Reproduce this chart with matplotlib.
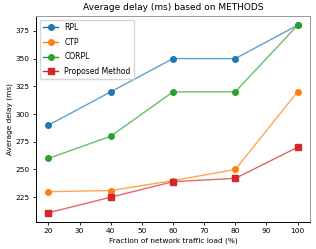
import matplotlib.pyplot as plt

loads = [20, 40, 60, 80, 100]
rpl = [290, 320, 350, 350, 380]
ctp = [230, 231, 240, 250, 320]
corpl = [260, 280, 320, 320, 380]
proposed = [211, 225, 239, 242, 270]

fig, ax = plt.subplots(figsize=(3.16, 2.49), dpi=100)

series = [("RPL", rpl, "o", "#1f77b4"),
          ("CTP", ctp, "o", "#ff7f0e"),
          ("CORPL", corpl, "o", "#2ca02c"),
          ("Proposed Method", proposed, "s", "#d62728")]

for name, vals, m, c in series:
    ax.plot(loads, vals, color=c, alpha=0.7, linewidth=1.0)
    ax.plot(loads, vals, linestyle="none", marker=m, color=c, markersize=4)
    # legend handle
    ax.plot([], [], color=c, marker=m, markersize=4, linewidth=1.0, label=name)

ax.set_title("Average delay (ms) based on METHODS", fontsize=6.5, pad=4)
ax.set_xlabel("Fraction of network traffic load (%)", fontsize=5.3, labelpad=2)
ax.set_ylabel("Average delay (ms)", fontsize=5.3, labelpad=2)
ax.tick_params(labelsize=5.3, length=2.5, width=0.6, pad=2)
ax.set_yticks([225, 250, 275, 300, 325, 350, 375])
for s in ["top", "right"]:
    ax.spines[s].set_color("#999999")
for s in ax.spines.values():
    s.set_linewidth(0.7)
ax.legend(fontsize=5.5, loc="upper left", handlelength=2, labelspacing=0.75)

fig.subplots_adjust(left=0.114, right=0.981, top=0.936, bottom=0.108)
fig.savefig("out.png")
